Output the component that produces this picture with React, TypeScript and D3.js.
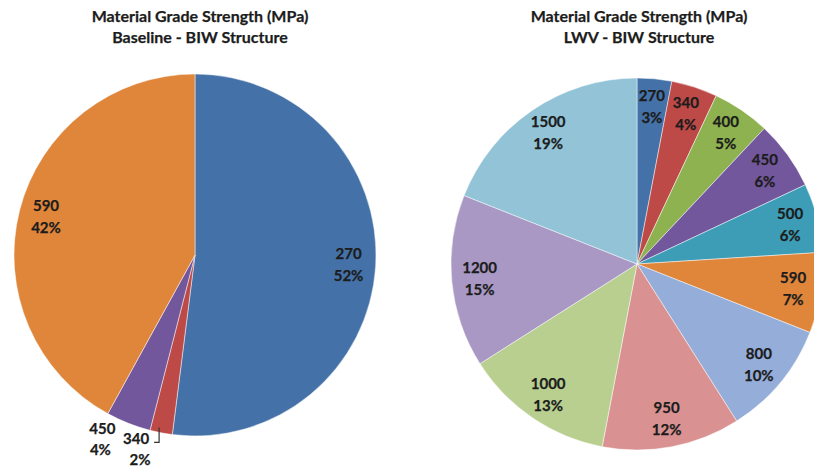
import React from "react";
import * as d3 from "d3";

const W = 814;
const H = 470;

// Baseline pie
const baselineGrades = ["270", "340", "450", "590"];
const baselineShare = [52, 2, 4, 42];
const baselineColors = ["#4472a8", "#bd4a47", "#72579c", "#e0863b"];
const baselineOutside = [false, true, true, false];

// LWV pie
const lwvGrades = ["270", "340", "400", "450", "500", "590", "800", "950", "1000", "1200", "1500"];
const lwvShare = [3, 4, 5, 6, 6, 7, 10, 12, 13, 15, 19];
const lwvColors = [
  "#4472a8", "#bd4a47", "#8db24f", "#72579c", "#3e9db6", "#e0863b",
  "#95add9", "#d99291", "#b8cf8f", "#a898c3", "#92c3d6",
];

const titleLine1 = "Material Grade Strength (MPa)";
const baselineTitle2 = "Baseline - BIW Structure";
const lwvTitle2 = "LWV - BIW Structure";

const FONT = "Lato, 'Open Sans', sans-serif";
const TEXT = "#1c1c1c";
const LABEL_SIZE = 15;

type Slice = { grade: string; share: number; color: string; outside: boolean };

function Pie({
  cx, cy, r, data, title2, titleX,
  outsideOffsets,
}: {
  cx: number; cy: number; r: number; data: Slice[]; title2: string; titleX: number;
  outsideOffsets?: Record<string, [number, number]>;
}) {
  const pie = d3.pie<Slice>().sort(null).value((d) => d.share);
  const arcs = pie(data);
  const arc = d3.arc<d3.PieArcDatum<Slice>>().innerRadius(0).outerRadius(r);
  const labelArc = d3.arc<d3.PieArcDatum<Slice>>().innerRadius(r * 0.85).outerRadius(r * 0.85);
  const edgeArc = d3.arc<d3.PieArcDatum<Slice>>().innerRadius(r * 0.97).outerRadius(r * 0.97);
  const total = d3.sum(data, (d) => d.share);
  const pct = (v: number) => `${Math.round((v / total) * 100)}%`;
  const txt = (x: number, y: number, s: string, k: string) => (
    <text key={k} x={x} y={y} textAnchor="middle" fontFamily={FONT} fontWeight={700}
      fontSize={LABEL_SIZE} fill={TEXT} stroke={TEXT} strokeWidth={0.25}>
      {s}
    </text>
  );
  return (
    <g>
      <text x={titleX} y={22} textAnchor="middle" fontFamily={FONT} fontWeight={700} fontSize={16} fill={TEXT} stroke={TEXT} strokeWidth={0.25}>
        {titleLine1}
      </text>
      <text x={titleX} y={43} textAnchor="middle" fontFamily={FONT} fontWeight={700} fontSize={16} fill={TEXT} stroke={TEXT} strokeWidth={0.25}>
        {title2}
      </text>
      <g transform={`translate(${cx},${cy})`}>
        {arcs.map((a, i) => (
          <path key={i} d={arc(a) || ""} fill={a.data.color} stroke="#ffffff" strokeOpacity={0.6} strokeWidth={0.8} />
        ))}
        {arcs.map((a, i) => {
          if (a.data.outside) {
            const [ex, ey] = edgeArc.centroid(a);
            const off = (outsideOffsets && outsideOffsets[a.data.grade]) || [0, 0];
            const lx = ex + off[0];
            const ly = ey + off[1];
            const leader = a.data.grade === "340";
            return (
              <g key={"l" + i}>
                {leader && (
                  <path d={`M${ex - 3},${ey}V${ey + 15}H${ex - 8}`} fill="none" stroke="#333" strokeWidth={1.2} />
                )}
                {txt(lx, ly - 6, a.data.grade, "a")}
                {txt(lx + (leader ? 4 : -2), ly + 15, pct(a.data.share), "b")}
              </g>
            );
          }
          const [lx, ly] = labelArc.centroid(a);
          return (
            <g key={"l" + i}>
              {txt(lx, ly - 6, a.data.grade, "a")}
              {txt(lx, ly + 16, pct(a.data.share), "b")}
            </g>
          );
        })}
      </g>
    </g>
  );
}

export default function App() {
  const baseline: Slice[] = baselineGrades.map((g, i) => ({
    grade: g, share: baselineShare[i], color: baselineColors[i], outside: baselineOutside[i],
  }));
  const lwv: Slice[] = lwvGrades.map((g, i) => ({
    grade: g, share: lwvShare[i], color: lwvColors[i], outside: false,
  }));
  return (
    <svg
      width={W}
      height={H}
      viewBox={`0 0 ${W} ${H}`}
      style={{ position: "absolute", left: 0, top: 0, display: "block", background: "#ffffff" }}
    >
      <rect x={0} y={0} width={W} height={H} fill="#ffffff" />
      <Pie
        cx={195} cy={255} r={181} data={baseline} title2={baselineTitle2} titleX={200}
        outsideOffsets={{ "450": [-28, 22], "340": [-26, 23] }}
      />
      <Pie cx={637} cy={264} r={186} data={lwv} title2={lwvTitle2} titleX={639} />
    </svg>
  );
}
